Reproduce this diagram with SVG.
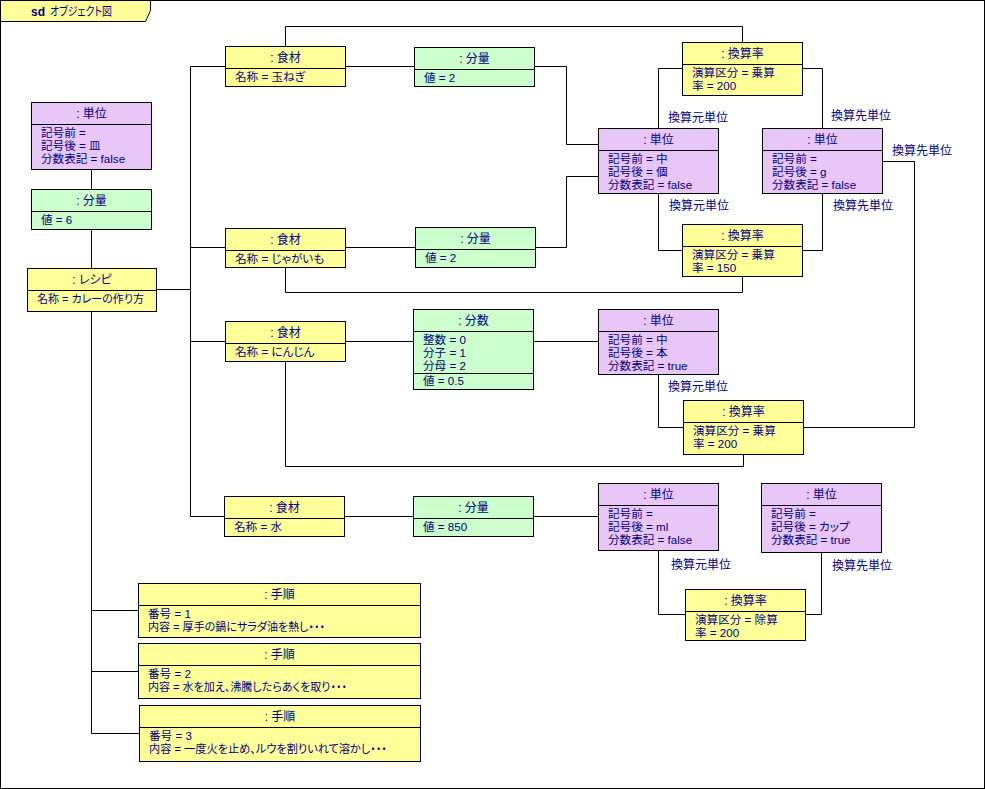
<svg xmlns="http://www.w3.org/2000/svg" width="985" height="789" viewBox="0 0 985 789">
<style>
text { font-family: "Liberation Sans", "Noto Sans CJK JP", sans-serif; font-size: 12px; fill: #000080; font-feature-settings: "palt"; }
text.a { font-size: 11.6px; }
.h { text-anchor: middle; }
.b { fill: none; stroke: #000; stroke-width: 1; }
.y { fill: #FFFF99; stroke: #000; stroke-width: 1; }
.g { fill: #CCFFCC; stroke: #000; stroke-width: 1; }
.p { fill: #E8C6F8; stroke: #000; stroke-width: 1; }
.c { fill: none; stroke: #000; stroke-width: 1; }
</style>
<rect x="0" y="0" width="985" height="789" fill="#ffffff"/>
<g id="frame">
<rect class="b" x="0.5" y="0.5" width="984" height="788"/>
<path class="y" d="M0.5,0.5 H150.5 V10.5 L145.5,21.5 H0.5 Z"/>
<text x="31" y="16" style="font-weight:bold">sd</text>
<text x="50" y="16" textLength="62" lengthAdjust="spacingAndGlyphs">オブジェクト図</text>
</g>
<g id="connectors">
<path class="c" d="M91.5,169.5 V189.5"/>
<path class="c" d="M91.5,229.5 V268.5"/>
<path class="c" d="M156.5,289.5 H190.5 V66.5 H225.5"/>
<path class="c" d="M190.5,247.5 H225.5"/>
<path class="c" d="M190.5,341.5 H225.5"/>
<path class="c" d="M190.5,289.5 V516.5 H224.5"/>
<path class="c" d="M91.5,311.5 V733.5 H139.5"/>
<path class="c" d="M91.5,610.5 H138.5"/>
<path class="c" d="M91.5,671.5 H138.5"/>
<path class="c" d="M345.5,66.5 H414.5"/>
<path class="c" d="M534.5,66.5 H566.5 V144.5 H598.5"/>
<path class="c" d="M345.5,247.5 H415.5"/>
<path class="c" d="M535.5,247.5 H566.5 V176.5 H598.5"/>
<path class="c" d="M285.5,46.5 V26.5 H742.5 V42.5"/>
<path class="c" d="M285.5,267.5 V292.5 H742.5 V276.5"/>
<path class="c" d="M682.5,68.5 H658.5 V128.5"/>
<path class="c" d="M802.5,68.5 H822.5 V128.5"/>
<path class="c" d="M658.5,193.5 V250.5 H682.5"/>
<path class="c" d="M822.5,193.5 V250.5 H802.5"/>
<path class="c" d="M882.5,161.5 H914.5 V427.5 H803.5"/>
<path class="c" d="M345.5,341.5 H413.5"/>
<path class="c" d="M533.5,341.5 H598.5"/>
<path class="c" d="M658.5,374.5 V427.5 H683.5"/>
<path class="c" d="M285.5,361.5 V466.5 H743.5 V454.5"/>
<path class="c" d="M344.5,516.5 H413.5"/>
<path class="c" d="M533.5,516.5 H598.5"/>
<path class="c" d="M658.5,550.5 V614.5 H685.5"/>
<path class="c" d="M821.5,552.5 V614.5 H805.5"/>
<text x="668" y="122">換算元単位</text>
<text x="831" y="119.5">換算先単位</text>
<text x="892" y="154.5">換算先単位</text>
<text x="669" y="210">換算元単位</text>
<text x="833" y="210">換算先単位</text>
<text x="668" y="391">換算元単位</text>
<text x="671" y="568.5">換算元単位</text>
<text x="832" y="570">換算先単位</text>
</g>
<g id="unit_sara">
<rect class="p" x="31.5" y="102.5" width="120" height="67"/>
<path class="c" d="M31.5,124.5 H151.5"/>
<text class="h" x="91.5" y="118">: 単位</text>
<text class="a" x="41" y="136.5">記号前 =</text>
<text class="a" x="41" y="149.5">記号後 = 皿</text>
<text class="a" x="41" y="162.5">分数表記 = false</text>
</g>
<g id="qty_6">
<rect class="g" x="31.5" y="189.5" width="120" height="40"/>
<path class="c" d="M31.5,211.5 H151.5"/>
<text class="h" x="91.5" y="205">: 分量</text>
<text class="a" x="41" y="223.5">値 = 6</text>
</g>
<g id="recipe">
<rect class="y" x="27.5" y="268.5" width="129" height="43"/>
<path class="c" d="M27.5,290.5 H156.5"/>
<text class="h" x="92" y="284">: レシピ</text>
<text class="a" x="37" y="302.5" textLength="107" lengthAdjust="spacingAndGlyphs">名称 = カレーの作り方</text>
</g>
<g id="ing_onion">
<rect class="y" x="225.5" y="46.5" width="120" height="40"/>
<path class="c" d="M225.5,68.5 H345.5"/>
<text class="h" x="285.5" y="62">: 食材</text>
<text class="a" x="235" y="80.5">名称 = 玉ねぎ</text>
</g>
<g id="qty_onion">
<rect class="g" x="414.5" y="47.5" width="120" height="39"/>
<path class="c" d="M414.5,69.5 H534.5"/>
<text class="h" x="474.5" y="63">: 分量</text>
<text class="a" x="424" y="81.5">値 = 2</text>
</g>
<g id="unit_ko">
<rect class="p" x="598.5" y="128.5" width="120" height="65"/>
<path class="c" d="M598.5,150.5 H718.5"/>
<text class="h" x="658.5" y="144">: 単位</text>
<text class="a" x="608" y="162.5">記号前 = 中</text>
<text class="a" x="608" y="175.5">記号後 = 個</text>
<text class="a" x="608" y="188.5">分数表記 = false</text>
</g>
<g id="conv_top">
<rect class="y" x="682.5" y="42.5" width="120" height="53"/>
<path class="c" d="M682.5,64.5 H802.5"/>
<text class="h" x="742.5" y="58">: 換算率</text>
<text class="a" x="692" y="76.5">演算区分 = 乗算</text>
<text class="a" x="692" y="89.5">率 = 200</text>
</g>
<g id="unit_g">
<rect class="p" x="762.5" y="128.5" width="120" height="65"/>
<path class="c" d="M762.5,150.5 H882.5"/>
<text class="h" x="822.5" y="144">: 単位</text>
<text class="a" x="772" y="162.5">記号前 =</text>
<text class="a" x="772" y="175.5">記号後 = g</text>
<text class="a" x="772" y="188.5">分数表記 = false</text>
</g>
<g id="conv_150">
<rect class="y" x="682.5" y="224.5" width="120" height="52"/>
<path class="c" d="M682.5,246.5 H802.5"/>
<text class="h" x="742.5" y="240">: 換算率</text>
<text class="a" x="692" y="258.5">演算区分 = 乗算</text>
<text class="a" x="692" y="271.5">率 = 150</text>
</g>
<g id="ing_potato">
<rect class="y" x="225.5" y="228.5" width="120" height="39"/>
<path class="c" d="M225.5,250.5 H345.5"/>
<text class="h" x="285.5" y="244">: 食材</text>
<text class="a" x="235" y="262.5">名称 = じゃがいも</text>
</g>
<g id="qty_potato">
<rect class="g" x="415.5" y="227.5" width="120" height="40"/>
<path class="c" d="M415.5,249.5 H535.5"/>
<text class="h" x="475.5" y="243">: 分量</text>
<text class="a" x="425" y="261.5">値 = 2</text>
</g>
<g id="ing_carrot">
<rect class="y" x="225.5" y="321.5" width="120" height="40"/>
<path class="c" d="M225.5,343.5 H345.5"/>
<text class="h" x="285.5" y="337">: 食材</text>
<text class="a" x="235" y="355.5">名称 = にんじん</text>
</g>
<g id="fraction">
<rect class="g" x="413.5" y="309.5" width="120" height="80"/>
<path class="c" d="M413.5,331.5 H533.5"/>
<path class="c" d="M413.5,373.5 H533.5"/>
<text class="h" x="473.5" y="325">: 分数</text>
<text class="a" x="423" y="343.5">整数 = 0</text>
<text class="a" x="423" y="356.5">分子 = 1</text>
<text class="a" x="423" y="369.5">分母 = 2</text>
<text class="a" x="423" y="385">値 = 0.5</text>
</g>
<g id="unit_hon">
<rect class="p" x="598.5" y="309.5" width="120" height="65"/>
<path class="c" d="M598.5,331.5 H718.5"/>
<text class="h" x="658.5" y="325">: 単位</text>
<text class="a" x="608" y="343.5">記号前 = 中</text>
<text class="a" x="608" y="356.5">記号後 = 本</text>
<text class="a" x="608" y="369.5">分数表記 = true</text>
</g>
<g id="conv_carrot">
<rect class="y" x="683.5" y="400.5" width="120" height="54"/>
<path class="c" d="M683.5,422.5 H803.5"/>
<text class="h" x="743.5" y="416">: 換算率</text>
<text class="a" x="693" y="434.5">演算区分 = 乗算</text>
<text class="a" x="693" y="447.5">率 = 200</text>
</g>
<g id="ing_water">
<rect class="y" x="224.5" y="496.5" width="120" height="40"/>
<path class="c" d="M224.5,518.5 H344.5"/>
<text class="h" x="284.5" y="512">: 食材</text>
<text class="a" x="234" y="530.5">名称 = 水</text>
</g>
<g id="qty_water">
<rect class="g" x="413.5" y="496.5" width="120" height="40"/>
<path class="c" d="M413.5,518.5 H533.5"/>
<text class="h" x="473.5" y="512">: 分量</text>
<text class="a" x="423" y="530.5">値 = 850</text>
</g>
<g id="unit_ml">
<rect class="p" x="598.5" y="483.5" width="120" height="67"/>
<path class="c" d="M598.5,505.5 H718.5"/>
<text class="h" x="658.5" y="499">: 単位</text>
<text class="a" x="608" y="517.5">記号前 =</text>
<text class="a" x="608" y="530.5">記号後 = ml</text>
<text class="a" x="608" y="543.5">分数表記 = false</text>
</g>
<g id="unit_cup">
<rect class="p" x="761.5" y="483.5" width="120" height="69"/>
<path class="c" d="M761.5,505.5 H881.5"/>
<text class="h" x="821.5" y="499">: 単位</text>
<text class="a" x="771" y="517.5">記号前 =</text>
<text class="a" x="771" y="530.5">記号後 = カップ</text>
<text class="a" x="771" y="543.5">分数表記 = true</text>
</g>
<g id="conv_div">
<rect class="y" x="685.5" y="589.5" width="120" height="51"/>
<path class="c" d="M685.5,611.5 H805.5"/>
<text class="h" x="745.5" y="605">: 換算率</text>
<text class="a" x="695" y="623.5">演算区分 = 除算</text>
<text class="a" x="695" y="636.5">率 = 200</text>
</g>
<g id="step1">
<rect class="y" x="138.5" y="583.5" width="282" height="54"/>
<path class="c" d="M138.5,605.5 H420.5"/>
<text class="h" x="279.5" y="599">: 手順</text>
<text class="a" x="148" y="617.5">番号 = 1</text>
<text class="a" x="148" y="630.5" textLength="177" lengthAdjust="spacingAndGlyphs">内容 = 厚手の鍋にサラダ油を熱し・・・</text>
</g>
<g id="step2">
<rect class="y" x="138.5" y="643.5" width="282" height="55"/>
<path class="c" d="M138.5,665.5 H420.5"/>
<text class="h" x="279.5" y="659">: 手順</text>
<text class="a" x="148" y="677.5">番号 = 2</text>
<text class="a" x="148" y="690.5" textLength="199" lengthAdjust="spacingAndGlyphs">内容 = 水を加え、沸騰したらあくを取り・・・</text>
</g>
<g id="step3">
<rect class="y" x="139.5" y="705.5" width="281" height="56"/>
<path class="c" d="M139.5,727.5 H420.5"/>
<text class="h" x="280" y="721">: 手順</text>
<text class="a" x="149" y="739.5">番号 = 3</text>
<text class="a" x="149" y="752.5" textLength="238" lengthAdjust="spacingAndGlyphs">内容 = 一度火を止め、ルウを割りいれて溶かし・・・</text>
</g>
</svg>
